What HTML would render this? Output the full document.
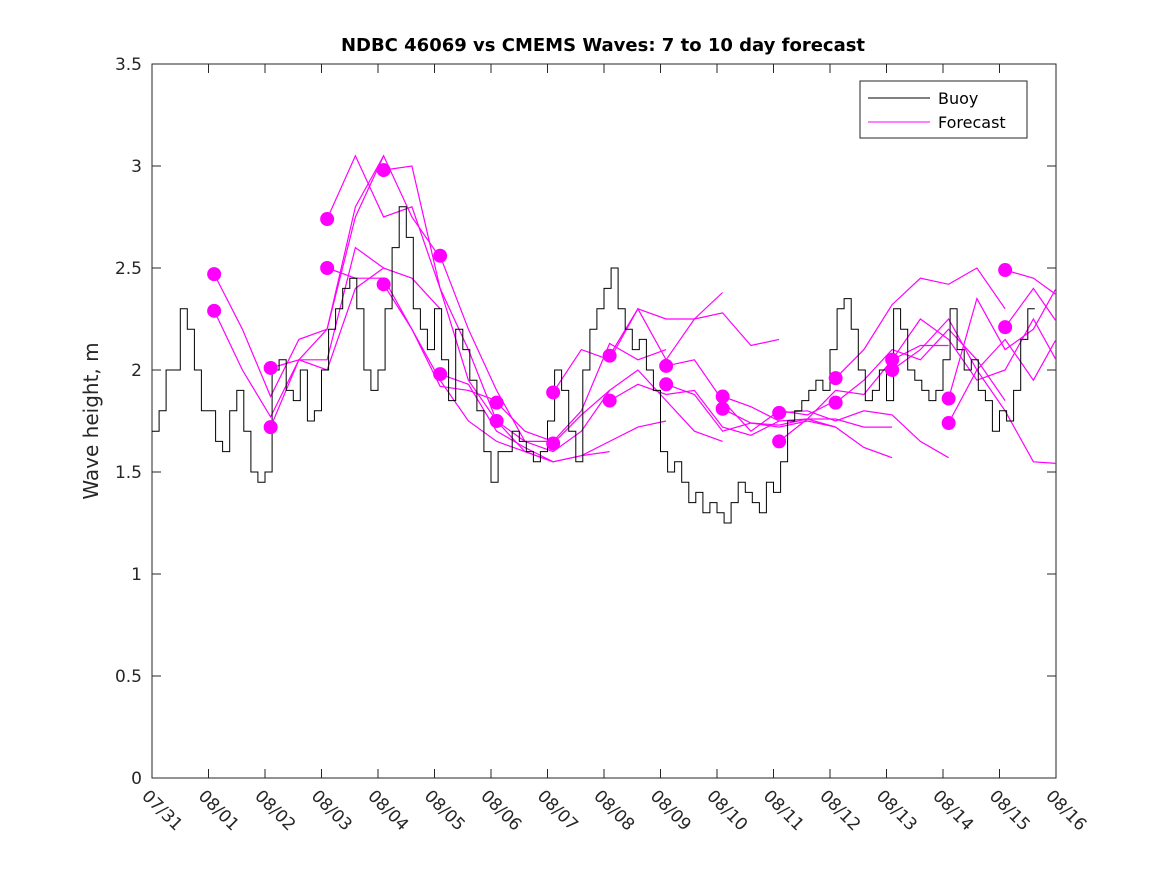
<!DOCTYPE html>
<html><head><meta charset="utf-8"><style>
body{margin:0;background:#fff}
svg text{font-family:"DejaVu Sans","Liberation Sans",sans-serif;fill:#262626}
</style></head><body>
<svg id="chart" width="1167" height="875" xmlns="http://www.w3.org/2000/svg">
<defs><clipPath id="clip"><rect x="152" y="64" width="904" height="714"/></clipPath></defs>
<rect x="0" y="0" width="1167" height="875" fill="#fff"/>
<text x="603" y="51" text-anchor="middle" font-size="18" font-weight="bold" style="fill:#000">NDBC 46069 vs CMEMS Waves: 7 to 10 day forecast</text>
<text transform="translate(98,421) rotate(-90)" text-anchor="middle" font-size="20">Wave height, m</text>
<g id="axes"></g>
<g id="series" clip-path="url(#clip)"></g>
<g id="legend">
<rect x="860" y="81" width="167" height="57" fill="#fff" stroke="#262626" stroke-width="1"/>
<line x1="868" y1="98" x2="930" y2="98" stroke="#000" stroke-width="1"/>
<text x="938" y="104" font-size="16" style="fill:#000">Buoy</text>
<line x1="868" y1="122" x2="930" y2="122" stroke="#f0f" stroke-width="1"/>
<text x="938" y="128" font-size="16" style="fill:#000">Forecast</text>
</g>
</svg>
<script>
const xTickLabels=["07/31","08/01","08/02","08/03","08/04","08/05","08/06","08/07","08/08","08/09","08/10","08/11","08/12","08/13","08/14","08/15","08/16"];
const yTicks=[0,0.5,1,1.5,2,2.5,3,3.5];
const buoy=[1.7,1.8,2.0,2.0,2.3,2.2,2.0,1.8,
1.8,1.65,1.6,1.8,1.9,1.7,1.5,1.45,
1.5,2.0,2.05,1.9,1.85,2.0,1.75,1.8,
2.0,2.2,2.3,2.4,2.45,2.3,2.0,1.9,
2.0,2.3,2.6,2.8,2.65,2.3,2.2,2.1,
2.3,2.05,1.85,2.2,2.1,1.95,1.8,1.6,
1.45,1.6,1.6,1.7,1.65,1.6,1.55,1.6,
1.75,2.0,1.9,1.7,1.55,2.0,2.2,2.3,
2.4,2.5,2.3,2.2,2.1,2.15,2.0,1.9,
1.6,1.5,1.55,1.45,1.35,1.4,1.3,1.35,
1.3,1.25,1.35,1.45,1.4,1.35,1.3,1.45,
1.4,1.55,1.75,1.8,1.85,1.9,1.95,1.9,
2.1,2.3,2.35,2.2,2.0,1.85,1.9,2.0,
1.85,2.3,2.2,2.0,1.95,1.9,1.85,1.9,
2.05,2.3,2.1,2.0,2.05,1.9,1.85,1.7,
1.8,1.75,1.9,2.15,2.3];
const buoyStepDays=0.125;
const forecastStarts=[1.1,1.1,2.1,2.1,3.1,3.1,4.1,4.1,5.1,5.1,6.1,6.1,7.1,7.1,8.1,8.1,9.1,9.1,10.1,10.1,11.1,11.1,12.1,12.1,13.1,13.1,14.1,14.1,15.1,15.1];
const forecastValues=[
[2.47,2.2,1.87,2.15,2.2,2.8,3.05],
[2.29,2.0,1.77,2.05,2.05,2.6,2.5],
[2.01,2.05,2.2,2.75,3.05,2.75,2.55],
[1.72,2.05,2.0,2.4,2.5,2.45,2.3],
[2.74,3.05,2.75,2.8,2.4,2.1,1.75],
[2.50,2.45,2.45,2.2,1.92,1.9,1.85],
[2.98,3.0,2.4,1.95,1.75,1.65,1.65],
[2.42,2.2,1.95,1.75,1.65,1.6,1.55],
[2.56,2.2,1.9,1.65,1.6,1.7,1.9],
[1.98,1.93,1.7,1.62,1.55,1.58,1.6],
[1.84,1.7,1.65,1.8,2.13,2.05,2.1],
[1.75,1.6,1.55,1.58,1.65,1.72,1.75],
[1.89,2.1,2.05,2.3,2.05,2.25,2.38],
[1.64,1.78,1.9,2.0,1.85,1.7,1.65],
[2.07,2.3,2.25,2.25,2.28,2.12,2.15],
[1.85,1.93,1.88,1.9,1.72,1.68,1.75],
[2.02,2.05,1.85,1.7,1.8,1.78,1.85],
[1.93,1.88,1.7,1.74,1.72,1.75,1.72],
[1.87,1.82,1.75,1.76,1.76,1.72,1.72],
[1.81,1.74,1.73,1.76,1.72,1.62,1.57],
[1.79,1.80,1.75,1.8,1.78,1.65,1.57],
[1.65,1.76,1.9,1.88,2.05,2.12,2.12],
[1.96,2.1,2.32,2.45,2.42,2.5,2.3],
[1.84,1.95,2.1,2.05,2.2,2.05,1.85],
[2.05,2.25,2.15,1.95,2.0,2.25,2.0],
[2.0,2.1,2.25,2.0,1.8,1.55,1.54],
[1.86,2.35,2.1,2.2,2.45,2.25,2.3],
[1.74,2.0,2.15,1.95,2.2,2.05,2.05],
[2.49,2.45,2.35,2.15,2.2,2.2,2.2],
[2.21,2.4,2.2,2.05,1.9,1.9,1.9]];
const forecastStepDays=0.5;
</script>
<script>
const NS="http://www.w3.org/2000/svg";
const X0=152,X1=1056,Y0=778,Y1=64;
const xs=d=>X0+d*(X1-X0)/16;
const ys=v=>Y0-v*(Y0-Y1)/3.5;
function mk(tag,attrs,parent){const e=document.createElementNS(NS,tag);for(const k in attrs)e.setAttribute(k,attrs[k]);parent.appendChild(e);return e;}
const axes=document.getElementById('axes');
const box=mk('rect',{x:X0,y:Y1,width:X1-X0,height:Y0-Y1,fill:'none',stroke:'#262626','stroke-width':1},axes);


xTickLabels.forEach((lab,i)=>{const x=xs(i);
 const t1=mk('line',{x1:x,y1:Y0,x2:x,y2:Y0-9,stroke:'#262626'},axes);
 
 
 const t2=mk('line',{x1:x,y1:Y1,x2:x,y2:Y1+9,stroke:'#262626'},axes);
 
 
 const tx=mk('text',{transform:`translate(${x-11},${Y0+19}) rotate(45)`,'font-size':17},axes);
 tx.textContent=lab;
 
 
});
yTicks.forEach(v=>{const y=ys(v);
 const t1=mk('line',{x1:X0,y1:y,x2:X0+9,y2:y,stroke:'#262626'},axes);
 
 
 const t2=mk('line',{x1:X1,y1:y,x2:X1-9,y2:y,stroke:'#262626'},axes);
 
 
 const tx=mk('text',{x:X0-10,y:y+6,'text-anchor':'end','font-size':17},axes);
 tx.textContent=String(v);
 
 
});
const series=document.getElementById('series');
forecastValues.forEach((vals,i)=>{const s=forecastStarts[i];
 const pts=vals.map((v,j)=>xs(s+j*forecastStepDays).toFixed(1)+','+ys(v).toFixed(1)).join(' ');
 const pl=mk('polyline',{points:pts,fill:'none',stroke:'#f0f','stroke-width':1.2},series);
 
 
});
let d='';
buoy.forEach((v,i)=>{const x=xs(i*buoyStepDays),x2=xs((i+1)*buoyStepDays),y=ys(v);
 d+=(i===0?'M':'L')+x.toFixed(1)+','+y.toFixed(1)+'L'+x2.toFixed(1)+','+y.toFixed(1);});
const bl=mk('path',{d:d,fill:'none',stroke:'#000','stroke-width':1},series);


forecastValues.forEach((vals,i)=>{
 const c=mk('circle',{cx:xs(forecastStarts[i]),cy:ys(vals[0]),r:7,fill:'#f0f'},series);
 
 
});
</script>
</body></html>
